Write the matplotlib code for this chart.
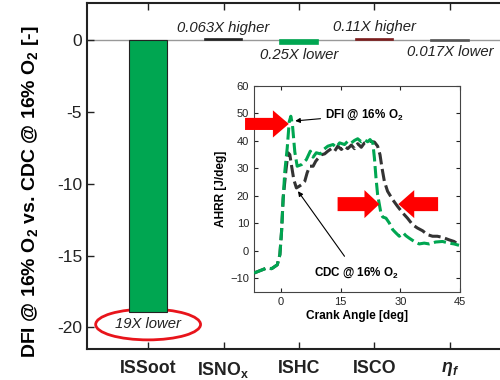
import numpy as np
import matplotlib
matplotlib.use("Agg")
import matplotlib.pyplot as plt
import matplotlib.patches as patches

plt.rcParams["font.family"] = ["Liberation Sans", "DejaVu Sans"]
plt.rcParams["mathtext.fontset"] = "custom"
plt.rcParams["mathtext.rm"] = "Liberation Sans"
plt.rcParams["mathtext.bf"] = "Liberation Sans:bold"
plt.rcParams["mathtext.it"] = "Liberation Sans:italic"
plt.rcParams["mathtext.bfit"] = "Liberation Sans:bold:italic"

# main bar chart data
categories = ["ISSoot", r"ISNO$_\mathbf{x}$", "ISHC", "ISCO", r"$\mathbfit{\eta}_\mathbfit{f}$"]
bar_values = [-18.9, 0.063, -0.25, 0.11, -0.017]
bar_colors = ["#00a651", "#222222", "#00a651", "#7a1c1c", "#555555"]
bar_notes = ["19X lower", "0.063X higher", "0.25X lower", "0.11X higher", "0.017X lower"]
note_y = [-19.8, 0.83, -1.04, 0.9, -0.83]

# inset AHRR traces
dfi_ca = [-6.75, -3.6, -2.3, -0.9, -0.25, 0.17, 0.58, 1.0, 1.6, 2.1, 2.5, 2.9, 3.5, 4.1,
          5.2, 6.4, 7.4, 8.1, 8.9, 9.9, 10.75, 11.8, 13.1, 13.9, 14.75, 16.0, 16.8, 17.7,
          18.5, 19.3, 20.2, 21.0, 21.8, 22.4, 23.1, 23.5, 23.9, 24.3, 24.75, 25.2, 25.6,
          26.4, 27.25, 28.1, 28.9, 29.75, 30.75, 31.4, 32.25, 33.5, 34.75, 36.0, 37.25,
          38.9, 40.6, 42.25, 43.5, 44.75]
dfi_hrr = [-8.1, -6.3, -6.5, -5.1, -1.4, 7.0, 19.2, 29.0, 37.5, 47.0, 49.0, 46.0, 36.0, 30.8,
           31.4, 33.2, 36.3, 34.1, 35.7, 35.3, 36.9, 38.1, 38.7, 37.7, 39.3, 38.7, 39.9, 39.3,
           40.2, 40.8, 39.7, 40.4, 39.7, 40.5, 39.3, 33.8, 26.5, 20.5, 16.8, 13.2, 12.3,
           11.9, 10.1, 7.7, 6.5, 5.3, 6.5, 5.5, 4.6, 3.4, 2.5, 2.8, 2.5,
           3.2, 3.4, 2.8, 2.5, 2.0]
cdc_ca = [-6.75, -3.6, -2.3, -0.9, -0.25, 0.17, 0.58, 1.25, 1.8, 2.25, 2.7, 3.25, 3.9, 4.6,
          5.2, 6.0, 6.6, 7.25, 8.1, 8.75, 9.3, 10.2, 11.0, 11.8, 12.7, 13.5, 14.3, 15.2,
          16.0, 16.8, 17.7, 18.5, 19.3, 20.2, 21.0, 22.25, 23.5, 24.3, 24.9, 25.4, 26.0,
          26.8, 28.1, 29.3, 30.6, 31.8, 33.1, 34.3, 35.6, 36.8, 38.1, 39.3, 40.6, 42.25,
          43.5, 44.75]
cdc_hrr = [-8.1, -6.3, -6.5, -5.1, -1.4, 7.0, 19.2, 29.0, 35.7, 35.0, 30.8, 25.9, 22.9, 23.5,
           24.1, 25.3, 28.4, 30.8, 30.8, 32.6, 33.6, 35.0, 35.3, 36.3, 37.2, 36.3, 38.1, 36.9,
           38.1, 37.2, 38.5, 37.2, 39.0, 37.7, 39.3, 39.9, 39.6, 38.1, 35.0, 30.2, 25.3,
           21.7, 18.6, 16.2, 13.8, 11.9, 9.5, 8.3, 7.3, 5.9, 5.3, 5.3, 4.9, 4.0,
           3.4, 2.2]

fig = plt.figure(figsize=(5.0, 3.8), dpi=100)
ax = fig.add_axes([0.174, 0.082, 0.848, 0.910])

x = np.arange(1, len(categories) + 1)
ax.axhline(0, color="#999999", lw=1.0, zorder=1)
for xi, v, c in zip(x, bar_values, bar_colors):
    ec = "#222222" if xi == 1 else c
    ax.bar(xi, v, width=0.5, color=c, edgecolor=ec, linewidth=0.8 if xi == 1 else 1.2, zorder=2)
for xi, note, ny in zip(x, bar_notes, note_y):
    ax.text(xi, ny, note, ha="center", va="center", fontsize=10.7, style="italic", color="#222222")

ax.add_patch(patches.Ellipse((1, -19.8), 1.39, 2.15, fill=False, edgecolor="#e8141b", lw=2.0))

ax.set_xlim(0.19, 5.81)
ax.set_ylim(-21.5, 2.6)
ax.set_yticks([-20, -15, -10, -5, 0])
ax.set_yticklabels(["-20", "-15", "-10", "-5", "0"])
ax.set_xticks(x)
ax.set_xticklabels(categories, fontweight="bold", fontsize=12.8)
ax.tick_params(axis="both", direction="in", length=5, width=1.0, top=True, right=False,
               labelsize=12.5, colors="#222222")
ax.tick_params(axis="x", pad=8, labelsize=12.8)
ax.set_ylabel(r"DFI @ 16% O$_\mathbf{2}$ vs. CDC @ 16% O$_\mathbf{2}$ [-]",
              fontsize=14.0, fontweight="bold")
ax.yaxis.set_label_coords(-0.108, 0.455)
for s in ax.spines.values():
    s.set_linewidth(1.5)
    s.set_color("#222222")
ax.spines["right"].set_visible(False)

# inset
ins = fig.add_axes([0.508, 0.2316, 0.412, 0.542])
ins.plot(cdc_ca, cdc_hrr, color="#333333", lw=2.2, dashes=(4, 1.5), zorder=3)
ins.plot(dfi_ca, dfi_hrr, color="#00a651", lw=2.2, dashes=(4, 1.5), zorder=4)
ins.set_xlim(-6.75, 45)
ins.set_ylim(-15, 60)
ins.set_xticks([0, 15, 30, 45])
ins.set_yticks(np.arange(-10, 61, 10))
ins.tick_params(axis="both", direction="in", length=3, width=0.8, top=True, right=True,
                labelsize=8, colors="#222222")
ins.set_xlabel("Crank Angle [deg]", fontsize=8.6, fontweight="bold", labelpad=2)
ins.set_ylabel("AHRR [J/deg]", fontsize=8.6, fontweight="bold", labelpad=2)
for s in ins.spines.values():
    s.set_linewidth(0.8)
    s.set_color("#444444")

ins.annotate(r"DFI @ 16% O$_\mathbf{2}$", xy=(3.6, 47.3), xytext=(11, 49.5),
             fontsize=8.4, fontweight="bold", va="center", ha="left",
             arrowprops=dict(arrowstyle="-|>", color="black", lw=0.8, mutation_scale=7,
                             shrinkA=1, shrinkB=0))
ins.annotate(r"CDC @ 16% O$_\mathbf{2}$", xy=(4.3, 21.7), xytext=(19, -8.1),
             fontsize=8.4, fontweight="bold", va="center", ha="center",
             arrowprops=dict(arrowstyle="-|>", color="black", lw=0.8, mutation_scale=7,
                             shrinkA=6, shrinkB=0))

red = "#ff0000"
ins.add_patch(patches.FancyArrow(-9, 46.2, 11.0, 0, width=4.4, head_width=9.9,
                                 head_length=4.0, length_includes_head=True,
                                 color=red, ec="none", clip_on=False, zorder=5))
ins.add_patch(patches.FancyArrow(14.25, 17, 10.5, 0, width=5.1, head_width=10.2,
                                 head_length=3.75, length_includes_head=True,
                                 color=red, ec="none", clip_on=False, zorder=5))
ins.add_patch(patches.FancyArrow(39.5, 17, -10.0, 0, width=5.1, head_width=10.2,
                                 head_length=4.0, length_includes_head=True,
                                 color=red, ec="none", clip_on=False, zorder=5))

fig.savefig("out.png", dpi=100)
